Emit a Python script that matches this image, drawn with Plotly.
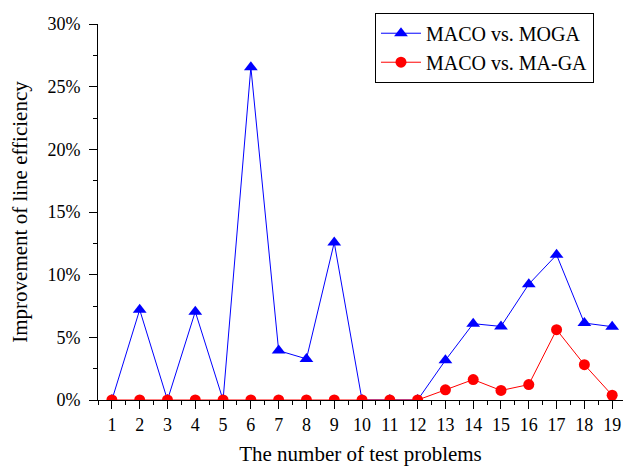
import plotly.graph_objects as go

problems = list(range(1, 20))
moga = [0, 7.2, 0, 7.05, 0, 26.55, 3.94, 3.28, 12.56, 0, 0, 0, 3.17, 6.09, 5.87, 9.24, 11.58, 6.14, 5.85]
maga = [0, 0, 0, 0, 0, 0, 0, 0, 0, 0, 0, 0, 0.81, 1.63, 0.76, 1.23, 5.61, 2.82, 0.38]
y_ticks = [0, 5, 10, 15, 20, 25, 30]
y_labels = [f"{v}%" for v in y_ticks]

FONT = "Liberation Serif, Times New Roman, serif"

fig = go.Figure()
fig.add_trace(go.Scatter(
    x=problems, y=moga, mode="lines+markers", name="MACO vs. MOGA",
    line=dict(color="#0000FF", width=1),
    marker=dict(symbol="triangle-up", size=12, color="#0000FF"),
))
fig.add_trace(go.Scatter(
    x=problems, y=maga, mode="lines+markers", name="MACO vs. MA-GA",
    line=dict(color="#FF0000", width=1),
    marker=dict(symbol="circle", size=11, color="#FF0000"),
))

fig.update_layout(
    width=623, height=469,
    margin=dict(l=98, r=0, t=23.5, b=68.5),
    paper_bgcolor="white", plot_bgcolor="white",
    font=dict(family=FONT, size=18, color="black"),
    showlegend=True,
    legend=dict(
        x=0.5276, y=1.03, xanchor="left", yanchor="top",
        bordercolor="black", borderwidth=1, bgcolor="white",
        font=dict(family=FONT, size=20), tracegroupgap=0,
        itemwidth=40,
    ),
    xaxis=dict(
        range=[0.5, 19.39], tickmode="array", tickvals=problems,
        ticktext=[str(p) for p in problems],
        showgrid=False, zeroline=False, showline=True, linecolor="black", linewidth=1,
        ticks="outside", ticklen=8, tickwidth=1, tickcolor="black",
        minor=dict(ticks="outside", ticklen=4, tickwidth=1, tickcolor="black", dtick=0.5, tick0=0.5),
        title=dict(text="The number of test problems", font=dict(family=FONT, size=21), standoff=12),
        tickfont=dict(family=FONT, size=18),
    ),
    yaxis=dict(
        range=[0, 30], tickmode="array", tickvals=y_ticks, ticktext=y_labels,
        showgrid=False, zeroline=False, showline=True, linecolor="black", linewidth=1,
        ticks="outside", ticklen=8, tickwidth=1, tickcolor="black",
        ticklabelstandoff=5,
        minor=dict(ticks="outside", ticklen=4, tickwidth=1, tickcolor="black", dtick=2.5, tick0=0),
        title=dict(text="Improvement of line efficiency", font=dict(family=FONT, size=21), standoff=14),
        tickfont=dict(family=FONT, size=18),
    ),
)

fig.write_html("out.html")
